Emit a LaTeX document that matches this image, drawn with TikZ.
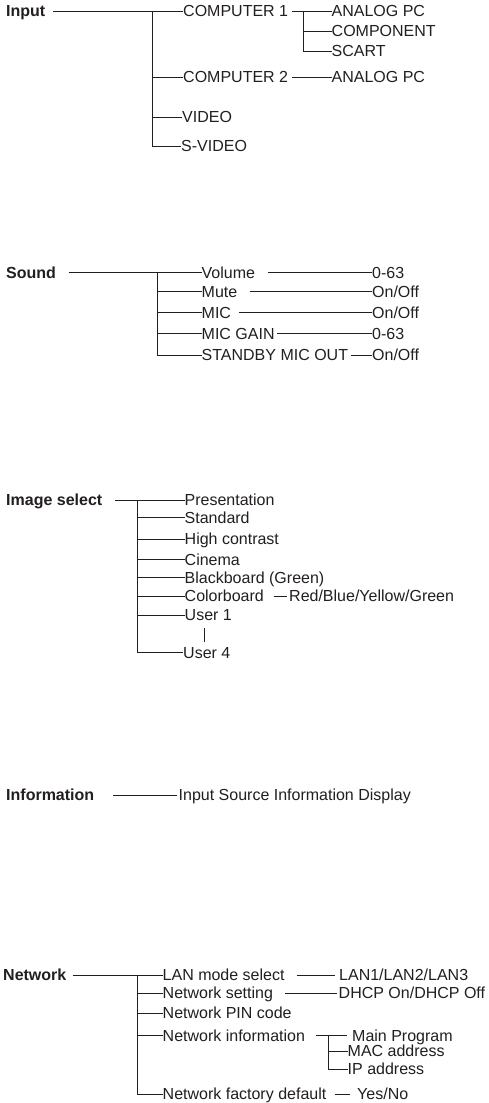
\documentclass[tikz,border=0pt]{standalone}
\usepackage{fontspec}
\setmainfont{Liberation Sans}
\usetikzlibrary{positioning, calc}
\definecolor{menuink}{HTML}{231F20}

\tikzset{
    menuitem/.style={anchor=west, inner sep=0pt, text height=11.4pt, text depth=0pt,
        text=menuink, font=\fontsize{16}{18}\selectfont},
    menuhead/.style={menuitem, font=\fontsize{16}{18}\selectfont\bfseries},
    branch/.style={draw=menuink, line width=0.9pt}
}

\begin{document}
\begin{tikzpicture}[x=1pt, y=-1pt]
    \useasboundingbox[fill=white] (0,0) rectangle (488,1103);

    % Input
    \node[menuhead] (input) at (6,11) {Input};
    \node[menuitem] (comp1) at (183,11) {COMPUTER 1};
    \node[menuitem] (comp1a) at (331.5,11) {ANALOG PC};
    \node[menuitem] (comp1b) at (331.5,31) {COMPONENT};
    \node[menuitem] (comp1c) at (331.5,51) {SCART};
    \node[menuitem] (comp2) at (183,77) {COMPUTER 2};
    \node[menuitem] (comp2a) at (331.5,77) {ANALOG PC};
    \node[menuitem] (video) at (182,117) {VIDEO};
    \node[menuitem] (svideo) at (181,146) {S-VIDEO};
    \coordinate (inJ) at (152,11);
    \coordinate (compJ) at (303,11);
    \draw[branch] ([xshift=8pt]input.east) -- (comp1.west);
    \draw[branch] (inJ) |- (comp2.west);
    \draw[branch] (inJ) |- (video.west);
    \draw[branch] (inJ) |- (svideo.west);
    \draw[branch] ([xshift=4pt]comp1.east) -- (comp1a.west);
    \draw[branch] (compJ) |- (comp1b.west);
    \draw[branch] (compJ) |- (comp1c.west);
    \draw[branch] ([xshift=3.5pt]comp2.east) -- (comp2a.west);

    % Sound
    \node[menuhead] (sound) at (6,272.5) {Sound};
    \node[menuitem] (vol) at (201.5,272.5) {Volume};
    \node[menuitem] (mute) at (201.5,291.5) {Mute};
    \node[menuitem] (mic) at (201.5,312.5) {MIC};
    \node[menuitem] (gain) at (201.5,333.5) {MIC GAIN};
    \node[menuitem] (stby) at (201.5,355) {STANDBY MIC OUT};
    \node[menuitem] (volv) at (372,272.5) {0-63};
    \node[menuitem] (mutev) at (372,291.5) {On/Off};
    \node[menuitem] (micv) at (372,312.5) {On/Off};
    \node[menuitem] (gainv) at (372,333.5) {0-63};
    \node[menuitem] (stbyv) at (372,355) {On/Off};
    \coordinate (sJ) at (157,272.5);
    \draw[branch] ([xshift=12.5pt]sound.east) -- (vol.west);
    \foreach \row in {mute, mic, gain, stby}
        \draw[branch] (sJ) |- (\row.west);
    \draw[branch] ([xshift=12.5pt]vol.east) -- (volv.west);
    \draw[branch] ([xshift=12.5pt]mute.east) -- (mutev.west);
    \draw[branch] ([xshift=8pt]mic.east) -- (micv.west);
    \draw[branch] ([xshift=2.5pt]gain.east) -- (gainv.west);
    \draw[branch] ([xshift=2.5pt]stby.east) -- (stbyv.west);

    % Image select
    \node[menuhead] (image) at (6,500) {Image select};
    \node[menuitem] (pres) at (184.5,500) {Presentation};
    \node[menuitem] (std) at (184.5,517.7) {Standard};
    \node[menuitem] (high) at (184.5,539) {High contrast};
    \node[menuitem] (cine) at (184.5,559.3) {Cinema};
    \node[menuitem] (black) at (184.5,577.3) {Blackboard (Green)};
    \node[menuitem] (color) at (184.5,596) {Colorboard};
    \node[menuitem] (colorv) at (289,596) {Red/Blue/Yellow/Green};
    \node[menuitem] (user1) at (184.5,615) {User 1};
    \node[menuitem] (user4) at (183,652.3) {User 4};
    \coordinate (imJ) at (137,500);
    \draw[branch] ([xshift=13pt]image.east) -- (pres.west);
    \foreach \row in {std, high, cine, black, color, user1, user4}
        \draw[branch] (imJ) |- (\row.west);
    \draw[branch] ([xshift=9.5pt]color.east) -- ([xshift=-2pt]colorv.west);
    \draw[branch] ($(user1.south west)+(19.5,7.5)$) -- ($(user1.south west)+(19.5,21.5)$);

    % Information
    \node[menuhead] (info) at (6,795) {Information};
    \node[menuitem] (infov) at (178.5,795) {Input Source Information Display};
    \draw[branch] ([xshift=19pt]info.east) -- ([xshift=-1.5pt]infov.west);

    % Network
    \node[menuhead] (net) at (3,975) {Network};
    \node[menuitem] (lan) at (162.5,975) {LAN mode select};
    \node[menuitem] (nset) at (162.5,993) {Network setting};
    \node[menuitem] (pin) at (162.5,1013) {Network PIN code};
    \node[menuitem] (ninfo) at (162.5,1035.5) {Network information};
    \node[menuitem] (fact) at (162.5,1094) {Network factory default};
    \node[menuitem] (lanv) at (339,975) {LAN1/LAN2/LAN3};
    \node[menuitem] (nsetv) at (338.5,993) {DHCP On/DHCP Off};
    \node[menuitem] (mainp) at (352,1035.5) {Main Program};
    \node[menuitem] (mac) at (347.5,1051) {MAC address};
    \node[menuitem] (ip) at (347.5,1069) {IP address};
    \node[menuitem] (factv) at (357,1094) {Yes/No};
    \coordinate (netJ) at (137,975);
    \coordinate (niJ) at (328,1035.5);
    \draw[branch] ([xshift=6pt]net.east) -- (lan.west);
    \foreach \row in {nset, pin, ninfo, fact}
        \draw[branch] (netJ) |- (\row.west);
    \draw[branch] ([xshift=12pt]lan.east) -- ([xshift=-4pt]lanv.west);
    \draw[branch] ([xshift=12pt]nset.east) -- ([xshift=-2pt]nsetv.west);
    \draw[branch] ([xshift=11pt]ninfo.east) -- ([xshift=-5.5pt]mainp.west);
    \draw[branch] (niJ) |- (mac.west);
    \draw[branch] (niJ) |- (ip.west);
    \draw[branch] ([xshift=8pt]fact.east) -- ([xshift=-7pt]factv.west);
\end{tikzpicture}
\end{document}
